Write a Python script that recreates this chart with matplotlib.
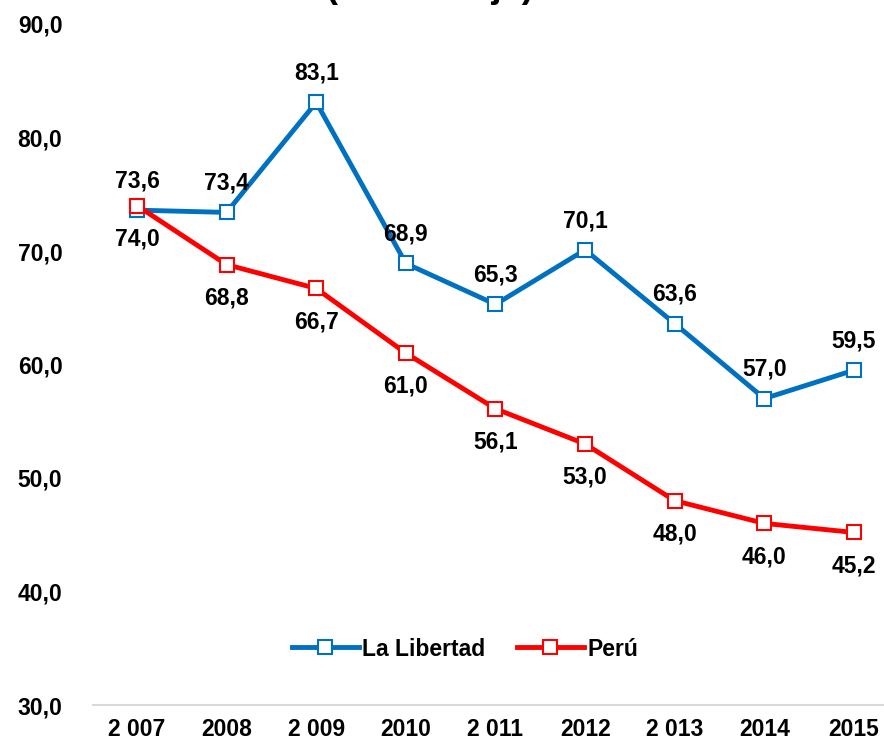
import matplotlib
matplotlib.use("Agg")
import matplotlib.pyplot as plt

years = ["2 007", "2008", "2 009", "2010", "2 011", "2012", "2 013", "2014", "2015"]
la_libertad = [73.6, 73.4, 83.1, 68.9, 65.3, 70.1, 63.6, 57.0, 59.5]
peru = [74.0, 68.8, 66.7, 61.0, 56.1, 53.0, 48.0, 46.0, 45.2]
yticks = [30, 40, 50, 60, 70, 80, 90]

plt.rcParams["font.family"] = ["Liberation Sans", "DejaVu Sans"]

W, H = 884, 741
fig = plt.figure(figsize=(W / 100, H / 100), dpi=100)
left, right = 93, 884
top_y, bot_y = 24, 705  # pixel rows for 90 and 30
ax = fig.add_axes([left / W, 1 - bot_y / H, (right - left) / W, (bot_y - top_y) / H])
ax.set_ylim(30, 90)
x = list(range(len(years)))
step = 89.7
ax.set_xlim(-(137 - left) / step, 8 + (right - 854) / step)

blue = "#0070C0"
red = "#FF0000"
ax.plot(x, la_libertad, color=blue, lw=3.5, marker="s", ms=9.5, mfc="white",
        mec=blue, mew=1.5, label="La Libertad", zorder=3)
ax.plot(x, peru, color=red, lw=3.5, marker="s", ms=9.5, mfc="white",
        mec=red, mew=1.5, label="Perú", zorder=4)

fs = 16.5
for i, v in enumerate(la_libertad):
    ax.annotate(f"{v:.1f}".replace(".", ","), (i, v), xytext=(0, 21),
                textcoords="offset points", ha="center", va="center",
                fontsize=fs, fontweight="bold", color="black")
for i, v in enumerate(peru):
    ax.annotate(f"{v:.1f}".replace(".", ","), (i, v), xytext=(0, -24),
                textcoords="offset points", ha="center", va="center",
                fontsize=fs, fontweight="bold", color="black")

for s in ["top", "right", "left"]:
    ax.spines[s].set_visible(False)
ax.spines["bottom"].set_color("#D9D9D9")
ax.spines["bottom"].set_linewidth(1.5)
ax.set_yticks(yticks)
ax.set_yticklabels([f"{t:.1f}".replace(".", ",") for t in yticks],
                   fontsize=fs, fontweight="bold")
ax.set_xticks(x)
ax.set_xticklabels(years, fontsize=fs, fontweight="bold")
ax.tick_params(axis="both", length=0)
ax.tick_params(axis="y", pad=22)
ax.tick_params(axis="x", pad=9)

ax.legend(loc="center", bbox_to_anchor=((465 - left) / (right - left), (bot_y - 649) / (bot_y - top_y)),
          ncol=2, frameon=False, handlelength=2.9, columnspacing=1.4,
          handletextpad=0.15, prop={"weight": "bold", "size": fs})

fig.text(430 / W, 1 + 3 / H, "(Porcentaje)", ha="center", va="baseline",
         fontsize=26, fontweight="bold")

fig.savefig("out.png", dpi=100)
